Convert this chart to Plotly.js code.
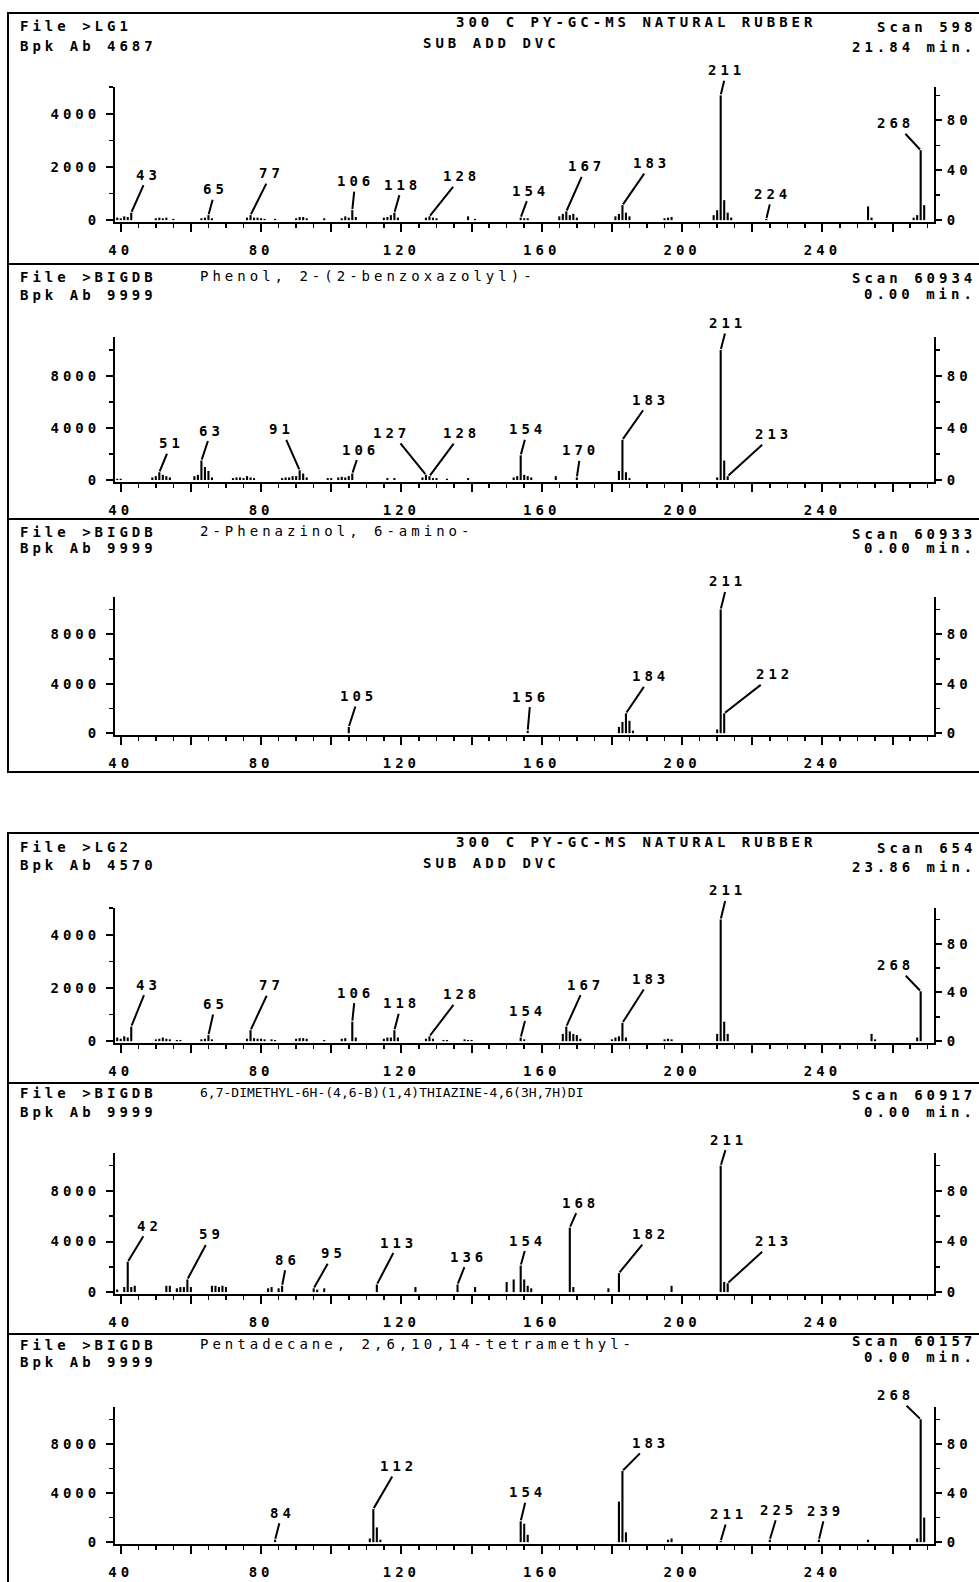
<!DOCTYPE html>
<html>
<head>
<meta charset="utf-8">
<script src="https://cdn.plot.ly/plotly-3.0.1.min.js"></script>
<style>
  html, body { margin: 0; padding: 0; background: #fff; }
  svg text { letter-spacing: 4px; }
</style>
</head>
<body>
<div id="chart" style="width:979px;height:1582px;"></div>
<script>
// ---- Spectra: m/z and relative abundance (% of base peak) ----
const lg1Mz = [39,40,41,42,43,50,51,52,53,55,63,64,65,66,76,77,78,79,80,81,84,90,91,92,93,98,103,104,105,106,107,115,116,117,118,119,127,128,129,130,139,141,154,155,156,165,166,167,168,169,170,181,182,183,184,185,195,196,197,209,210,211,212,213,214,224,253,254,266,267,268,269];
const lg1Ab = [2,1.5,3,2.5,6,1.5,2,1.5,2,1,1.5,2,4,1.5,2,4,2,2,1.5,1,1,1.5,2.5,2.5,1.5,1.5,1.5,3,2,8,2.5,2,2.5,4,6,2,2,3,2,1.5,3,1,2,1.5,1.5,3,5,7,4,5,2,3,5,12,6,3,1.5,2,2.5,4,8,100,16,6,2,1,11,2,2,4,56,12];

const phenolMz = [39,40,49,50,51,52,53,54,61,62,63,64,65,66,72,73,74,75,76,77,78,86,87,88,89,90,91,92,93,99,100,102,103,104,105,106,116,118,126,127,128,129,130,133,139,152,153,154,155,156,157,164,170,182,183,184,185,210,211,212,213];
const phenolAb = [1,1,2,3,6,4,3,2,3,4,15,10,7,2,1.5,2,2,1.5,3,2,1.5,1.5,2,2,3,3,7.5,5,2,1.5,1.5,2,2.5,2,3,5,1.5,1.5,2,4,3,1.5,1.5,1,1.5,2,3,19,4,3,2,3,2,7,31,6,1.5,2,100,15,3];

const phenazinolMz = [105,156,182,183,184,185,186,210,211,212];
const phenazinolAb = [5,2,5,9,16,10,2,3,100,16];

const lg2Mz = [39,40,41,42,43,50,51,52,53,54,56,57,63,64,65,66,76,77,78,79,80,81,83,84,90,91,92,93,98,103,104,106,107,115,116,117,118,119,127,128,129,132,133,138,139,140,154,155,166,167,168,169,170,171,180,181,182,183,184,195,196,197,210,211,212,213,254,255,267,268];
const lg2Ab = [3,2,4,3,12,1.5,2,3,2,1.5,1,1,1.5,2,5,1.5,2,9,2.5,2,2,1.5,1.5,1,2,2.5,2.5,2,1,2,2.5,16,3,2,3,3,9,3,2,4,2,1,1,1.5,1,1,3,1.5,6,12,8,6,5,2,1.5,3,4,15,3,1.5,2,1.5,6,100,16,6,6,1.5,3,41];

const thiazineMz = [39,41,42,43,44,53,54,56,57,58,59,60,66,67,68,69,70,82,83,85,86,95,96,98,113,124,136,141,150,152,154,155,156,157,168,169,179,182,197,211,212,213];
const thiazineAb = [2,4,24,4,5,5,5,3,4,4,10,4,5,5,4,5,4,3,4,3,5,3,2,3,6,4,6,4,8,10,21,10,5,3,51,4,3,15,5,100,8,7];

const pentadecaneMz = [84,111,112,113,114,154,155,156,182,183,184,196,197,211,225,239,253,267,268,269];
const pentadecaneAb = [2,3,27,12,2,17,15,6,33,58,8,2,3,1,2,2,2,3,100,20];

// ---- Labelled peaks (m/z) ----
const lg1Labels = [43,65,77,106,118,128,154,167,183,211,224,268];
const phenolLabels = [51,63,91,106,127,128,154,170,183,211,213];
const phenazinolLabels = [105,156,184,211,212];
const lg2Labels = [43,65,77,106,118,128,154,167,183,211,268];
const thiazineLabels = [42,59,86,95,113,136,154,168,182,211,213];
const pentadecaneLabels = [84,112,154,183,211,225,239,268];

// ---- Header texts ----
const fileNames = ['File >LG1','File >BIGDB','File >BIGDB','File >LG2','File >BIGDB','File >BIGDB'];
const compoundNames = ['', 'Phenol, 2-(2-benzoxazolyl)-', '2-Phenazinol, 6-amino-', '', '6,7-DIMETHYL-6H-(4,6-B)(1,4)THIAZINE-4,6(3H,7H)DI', 'Pentadecane, 2,6,10,14-tetramethyl-'];
const basePeakAbundance = [4687, 9999, 9999, 4570, 9999, 9999];
const scanNumbers = ['Scan 598','Scan 60934','Scan 60933','Scan 654','Scan 60917','Scan 60157'];
const retentionTimes = ['21.84 min.','0.00 min.','0.00 min.','23.86 min.','0.00 min.','0.00 min.'];
const runTitle = ['300 C PY-GC-MS NATURAL RUBBER', 'SUB ADD DVC'];
const xTickVals = [40,60,80,100,120,140,160,180,200,220,240,260];
const xTickText = ['40','','80','','120','','160','','200','','240',''];

// ---- Page geometry (pixels) ----
const W = 979, H = 1582;
const FONT = "'DejaVu Sans Mono', 'Liberation Mono', monospace";
const MZ_RANGE = [38.37, 271.8];
const X_DOMAIN = [115 / W, 934 / W];
const LO = -1.5;   // small gap (%) between zero and the axis line

const panels = [
  {mz: lg1Mz, ab: lg1Ab, labels: lg1Labels, axisTop: 5000, step: 2000, minor: 1000, top: 87, line: 222,
   rows: [26, 46], rightRows: [27, 47], centerRows: [22, 43],
   offsets: [[17,-38],[7,-26],[21,-42],[3,-29],[8,-28],[32,-40],[10,-27],[20,-45],[29,-42],[6,-25],[6,-25],[-25,-27]]},
  {mz: phenolMz, ab: phenolAb, labels: phenolLabels, axisTop: 11000, step: 4000, minor: 2000, top: 337, line: 482,
   rows: [277, 295], rightRows: [278, 294],
   offsets: [[12,-29],[10,-30],[-18,-41],[8,-24],[-34,-42],[32,-43],[7,-26],[4,-27],[28,-40],[7,-27],[46,-42]]},
  {mz: phenazinolMz, ab: phenazinolAb, labels: phenazinolLabels, axisTop: 11000, step: 4000, minor: 2000, top: 597, line: 735,
   rows: [532, 548], rightRows: [534, 548],
   offsets: [[10,-31],[3,-34],[25,-37],[7,-28],[50,-39]]},
  {mz: lg2Mz, ab: lg2Ab, labels: lg2Labels, axisTop: 5000, step: 2000, minor: 1000, top: 908, line: 1043,
   rows: [847, 865], rightRows: [848, 867], centerRows: [842, 863],
   offsets: [[17,-42],[7,-31],[21,-45],[3,-29],[7,-27],[32,-42],[7,-27],[19,-42],[28,-44],[7,-29],[-25,-26]]},
  {mz: thiazineMz, ab: thiazineAb, labels: thiazineLabels, axisTop: 11000, step: 4000, minor: 2000, top: 1153, line: 1294,
   rows: [1093, 1112], rightRows: [1095, 1112], tightName: true,
   offsets: [[22,-36],[24,-45],[5,-26],[20,-35],[22,-42],[11,-28],[7,-25],[11,-25],[32,-39],[8,-26],[46,-42]]},
  {mz: pentadecaneMz, ab: pentadecaneAb, labels: pentadecaneLabels, axisTop: 11000, step: 4000, minor: 2000, top: 1407, line: 1544,
   rows: [1345, 1362], rightRows: [1341, 1357],
   offsets: [[7,-27],[25,-43],[7,-29],[28,-28],[8,-27],[9,-30],[7,-29],[-25,-24]]}
];

const px = x => x / W;
const py = y => 1 - y / H;
const boldFont = (size) => ({family: FONT, size: size, color: '#000', weight: 'bold'});

const axisBase = {
  showline: true, linecolor: '#000', linewidth: 2, mirror: false,
  showgrid: false, zeroline: false, fixedrange: true,
  ticks: 'outside', tickcolor: '#000', tickwidth: 2,
  tickfont: boldFont(14)
};

const traces = [];
const layout = {
  width: W, height: H,
  margin: {l: 0, r: 0, t: 0, b: 0},
  paper_bgcolor: '#fff', plot_bgcolor: 'rgba(0,0,0,0)',
  showlegend: false, barmode: 'overlay',
  font: boldFont(14),
  annotations: [], shapes: []
};

panels.forEach((p, i) => {
  const n = i + 1;
  const bpk = basePeakAbundance[i];
  const xName = n === 1 ? 'xaxis' : 'xaxis' + n;
  const xId = n === 1 ? 'x' : 'x' + n;
  const ylNum = 2 * n - 1, yrNum = 2 * n;
  const ylName = ylNum === 1 ? 'yaxis' : 'yaxis' + ylNum;
  const ylId = ylNum === 1 ? 'y' : 'y' + ylNum;
  const yrName = 'yaxis' + yrNum, yrId = 'y' + yrNum;
  const dom = [py(p.line), py(p.top)];
  const hiPct = p.axisTop / bpk * 100;

  layout[xName] = Object.assign({}, axisBase, {
    domain: X_DOMAIN, anchor: ylId, range: MZ_RANGE,
    tickmode: 'array', tickvals: xTickVals, ticktext: xTickText,
    ticklen: 8, ticklabelstandoff: 6,
    minor: {tickmode: 'linear', tick0: 40, dtick: 5, ticks: 'outside', ticklen: 4, tickwidth: 1.5, tickcolor: '#000', showgrid: false}
  });
  layout[ylName] = Object.assign({}, axisBase, {
    domain: dom, anchor: xId, side: 'left',
    range: [LO * bpk / 100, p.axisTop],
    tickmode: 'linear', tick0: 0, dtick: p.step, tickformat: 'd', ticklen: 7, ticklabelstandoff: 3,
    minor: {tickmode: 'linear', tick0: 0, dtick: p.minor, ticks: 'outside', ticklen: 4, tickwidth: 1.5, tickcolor: '#000', showgrid: false}
  });
  layout[yrName] = Object.assign({}, axisBase, {
    anchor: xId, overlaying: ylId, side: 'right',
    range: [LO, hiPct],
    tickmode: 'linear', tick0: 0, dtick: 40, tickformat: 'd', ticklen: 6, ticklabelstandoff: 2,
    minor: {tickmode: 'linear', tick0: 0, dtick: 20, ticks: 'outside', ticklen: 4, tickwidth: 1.5, tickcolor: '#000', showgrid: false}
  });

  // abundance bars, in counts on the left axis
  traces.push({
    type: 'bar', x: p.mz, y: p.ab.map(v => v * bpk / 100), xaxis: xId, yaxis: ylId,
    width: 0.6, marker: {color: '#000', line: {width: 0}}, hoverinfo: 'skip'
  });

  // labelled peak tops in percent on the right axis (anchor points for the labels)
  const labelAb = p.labels.map(m => p.ab[p.mz.indexOf(m)]);
  traces.push({
    type: 'scatter', mode: 'markers', x: p.labels, y: labelAb, xaxis: xId, yaxis: yrId,
    marker: {size: 1, opacity: 0}, hoverinfo: 'skip'
  });

  p.labels.forEach((m, k) => {
    layout.annotations.push({
      xref: xId, yref: yrId, x: m, y: labelAb[k],
      text: String(m), font: boldFont(14),
      showarrow: true, arrowhead: 0, arrowwidth: 2, arrowcolor: '#000',
      ax: p.offsets[k][0], ay: p.offsets[k][1], standoff: 1, borderpad: 2
    });
  });

  // header block
  const hdr = (text, x, y, anchor, font) => layout.annotations.push({
    xref: 'paper', yref: 'paper', x: px(x), y: py(y), xanchor: anchor, yanchor: 'middle',
    text: text, showarrow: false, font: font || boldFont(14)
  });
  hdr(fileNames[i], 18, p.rows[0], 'left');
  hdr('Bpk Ab ' + bpk, 18, p.rows[1], 'left');
  if (compoundNames[i]) {
    const nameText = p.tightName
      ? '<span style="letter-spacing:0px">' + compoundNames[i] + '</span>'
      : compoundNames[i];
    hdr(nameText, 198, p.rows[0] - 1, 'left', {family: FONT, size: p.tightName ? 13 : 14, color: '#000', weight: 'normal'});
  }
  if (p.centerRows) {
    hdr(runTitle[0], 636, p.centerRows[0], 'center');
    hdr(runTitle[1], 491, p.centerRows[1], 'center');
  }
  hdr(scanNumbers[i], 978, p.rightRows[0], 'right');
  hdr(retentionTimes[i], 978, p.rightRows[1], 'right');
});

// frames around the two groups of spectra
const frameLine = {color: '#000', width: 2};
const rect = (x0, y0, x1, y1) => layout.shapes.push({type: 'rect', xref: 'paper', yref: 'paper',
  x0: px(x0), y0: py(y0), x1: px(x1), y1: py(y1), line: frameLine, fillcolor: 'rgba(0,0,0,0)'});
const hline = (y) => layout.shapes.push({type: 'line', xref: 'paper', yref: 'paper',
  x0: px(8), x1: px(990), y0: py(y), y1: py(y), line: frameLine});
rect(8, 13, 990, 772);
hline(264); hline(519);
rect(8, 833, 990, 1600);
hline(1083); hline(1334);

Plotly.newPlot('chart', traces, layout, {displayModeBar: false, staticPlot: true});
</script>
</body>
</html>
